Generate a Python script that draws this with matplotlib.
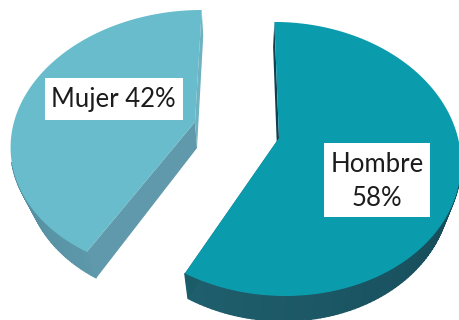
import numpy as np
import matplotlib
matplotlib.use("Agg")
import matplotlib.pyplot as plt
from matplotlib.colors import to_rgb
from matplotlib.patches import Rectangle

labels = ["Hombre", "Mujer"]
shares = [58, 42]

W, H = 460, 320

# Turns an angle on the pie (clockwise from the top) into screen offsets from the apex
def project(theta, A, B, k, shear):
    s = np.sin(theta)
    c = -np.cos(theta)
    x = A * s / (1 - k * c)
    y = B * c / (1 - k * c)
    return x + shear * y, y


# Draws one extruded slice: sides first, the flat top over them
def draw_slice(ax, start, stop, apex, A, B, k, shear, depth, vx, bias, top, side_in, side_arc, side_end):
    theta = np.radians(np.linspace(start, stop, 160))
    x, y = project(theta, A, B, k, shear)

    dx = -vx * x + bias
    arc_x = apex[0] + x
    arc_y = apex[1] + y
    low_x = arc_x + dx
    low_y = arc_y + depth

    # outer wall, split up so it gets darker towards the middle of the arc
    # only the near part of the arc has a wall that can be seen
    n = len(theta) - 1
    mid = np.array(to_rgb(side_arc[0]))
    ends = np.array(to_rgb(side_arc[1]))
    for i in range(n):
        if -np.cos(theta[i]) < 0.3:
            continue
        t = abs(i / n - 0.5) * 2
        col = mid * (1 - t) + ends * t
        ax.fill([arc_x[i], arc_x[i + 1], low_x[i + 1], low_x[i]],
                [arc_y[i], arc_y[i + 1], low_y[i + 1], low_y[i]],
                color=col, lw=1, zorder=1)

    # the two cut faces
    for j, col in ((0, side_in), (-1, side_end)):
        ax.fill([apex[0], arc_x[j], low_x[j], apex[0] + bias],
                [apex[1], arc_y[j], low_y[j], apex[1] + depth],
                color=col, lw=0, zorder=2)

    ax.fill(np.r_[apex[0], arc_x], np.r_[apex[1], arc_y], color=top, lw=0, zorder=3)


plt.rcParams["font.family"] = "Lato"

fig = plt.figure(figsize=(W / 100, H / 100), dpi=100)
ax = fig.add_axes([0, 0, 1, 1])
ax.set_xlim(0, W)
ax.set_ylim(H, 0)
ax.axis("off")

split = 360 * shares[0] / sum(shares)

draw_slice(ax, 0, split, (279, 138), 179, 133.8, 0.153, 0.04, 25, 0.05, -1.5,
           "#0a9cad", "#123f50", ("#164a58", "#1f5f6d"), "#1b5c69")
draw_slice(ax, split, 360, (195, 122), 181, 128.8, 0.15, -0.06, 26, 0.07, 2,
           "#68bccb", "#6099ab", ("#4d8899", "#5c98aa"), "#6fb2c2")

# label boxes
ax.add_patch(Rectangle((45, 78), 138, 42, fc="white", ec="none", zorder=4))
ax.add_patch(Rectangle((324, 143), 106, 74, fc="white", ec="none", zorder=4))
ax.text(113, 100, f"{labels[1]} {shares[1]}%", ha="center", va="center",
        fontsize=18.5, color="#1c1c1c", zorder=5)
ax.text(377, 165, labels[0], ha="center", va="center", fontsize=18.5, color="#1c1c1c", zorder=5)
ax.text(377, 198, f"{shares[0]}%", ha="center", va="center", fontsize=18.5, color="#1c1c1c", zorder=5)

fig.savefig("out.png", dpi=100, facecolor="white")
